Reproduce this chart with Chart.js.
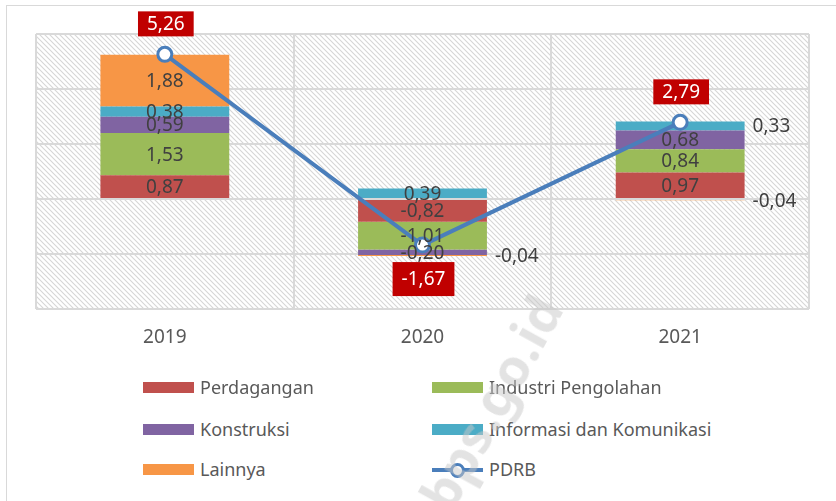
<!DOCTYPE html>
<html>
<head>
<meta charset="utf-8">
<script src="https://cdn.jsdelivr.net/npm/chart.js@4.4.1/dist/chart.umd.min.js"></script>
<style>
    body { margin: 0; background: #fff; }
    #wrap { position: relative; width: 836px; height: 501px; overflow: hidden; font-family: "Noto Sans", sans-serif; }
    #frame { position: absolute; left: 6px; top: 5px; width: 900px; height: 600px; border-left: 1px solid #d9d9d9; border-top: 1px solid #d9d9d9; }
    #chart__canvas { position: absolute; left: 0; top: 0; }
    .legend__item { position: absolute; display: flex; align-items: center; height: 24px; margin-top: -12px; font-size: 18px; color: #595959; white-space: nowrap; }
    .legend__swatch { width: 51px; height: 11px; margin-right: 6px; }
    .legend__line { position: relative; width: 51px; height: 11px; margin-right: 6px; }
    .legend__line span.bar { position: absolute; left: 0; right: 0; top: 4px; height: 4px; background: #4a7ebb; }
    .legend__line span.dot { position: absolute; left: 18px; top: -1px; width: 9px; height: 9px; border: 3px solid #4a7ebb; border-radius: 50%; background: #fff; }
    #watermark { position: absolute; left: 490px; top: 402px; transform: translate(-50%, -50%) rotate(-61deg); font-size: 52px; font-weight: bold; color: rgba(200, 200, 200, 0.5); white-space: nowrap; pointer-events: none; }
</style>
</head>
<body>
<div id="wrap">
    <div id="frame"></div>
    <canvas id="chart__canvas" width="836" height="377"></canvas>
    <div id="legend"></div>
    <div id="watermark">bps.go.id</div>
</div>
<script>
// data (sumbangan pertumbuhan, persen)
const years = ['2019', '2020', '2021'];
const perdagangan = [0.87, -0.82, 0.97];
const industri = [1.53, -1.01, 0.84];
const konstruksi = [0.59, -0.20, 0.68];
const infokom = [0.38, 0.39, 0.33];
const lainnya = [1.88, -0.04, -0.04];
const pdrb = [5.26, -1.67, 2.79];

// labels that sit to the right of the bar instead of inside it ("dataset-index")
const outsideLabels = ['3-2', '4-1', '4-2'];

const fmt = v => v.toFixed(2).replace('.', ',');
const FONT = '"Noto Sans", sans-serif';

// hatched background of the plot area
function hatchPattern(ctx) {
    const c = document.createElement('canvas');
    c.width = 5; c.height = 5;
    const p = c.getContext('2d');
    p.strokeStyle = '#d6d6d6';
    p.lineWidth = 1.1;
    p.beginPath();
    p.moveTo(-1, -1); p.lineTo(6, 6);
    p.moveTo(-1, 4); p.lineTo(1, 6);
    p.moveTo(4, -1); p.lineTo(6, 1);
    p.stroke();
    return ctx.createPattern(c, 'repeat');
}

const hatchPlugin = {
    id: 'hatch',
    beforeDraw(chart) {
        const { ctx, chartArea: a } = chart;
        ctx.save();
        ctx.fillStyle = hatchPattern(ctx);
        ctx.fillRect(a.left, a.top, a.right - a.left, a.bottom - a.top);
        ctx.restore();
    }
};

const labelPlugin = {
    id: 'valueLabels',
    afterDatasetsDraw(chart) {
        const ctx = chart.ctx;
        ctx.save();
        ctx.textBaseline = 'middle';
        chart.data.datasets.forEach((ds, di) => {
            const meta = chart.getDatasetMeta(di);
            meta.data.forEach((el, i) => {
                const v = ds.data[i];
                const text = fmt(v);
                ctx.font = '19px ' + FONT;
                if (ds.type === 'line') {
                    const w = ctx.measureText(text).width + 18;
                    const h = v >= 0 ? 25 : 34;
                    const cy = v >= 0 ? el.y - 18 - h / 2 : el.y + 17 + h / 2;
                    ctx.fillStyle = '#c00000';
                    ctx.fillRect(el.x - w / 2 + 1, cy - h / 2, w, h);
                    ctx.fillStyle = '#ffffff';
                    ctx.textAlign = 'center';
                    ctx.fillText(text, el.x + 1, cy + 1);
                } else {
                    ctx.fillStyle = '#404040';
                    const cy = (el.y + el.base) / 2;
                    if (outsideLabels.includes(di + '-' + i)) {
                        ctx.textAlign = 'left';
                        ctx.fillText(text, el.x + el.width / 2 + 8, cy + 1);
                    } else {
                        ctx.textAlign = 'center';
                        ctx.fillText(text, el.x, cy + 1);
                    }
                }
            });
        });
        ctx.restore();
    }
};

const barStyle = { type: 'bar', order: 1, borderWidth: 0, barPercentage: 0.5, categoryPercentage: 1 };

const chart = new Chart(document.querySelector('#chart__canvas'), {
    data: {
        labels: years,
        datasets: [
            { ...barStyle, label: 'Perdagangan', data: perdagangan, backgroundColor: '#c0504d' },
            { ...barStyle, label: 'Industri Pengolahan', data: industri, backgroundColor: '#9bbb59' },
            { ...barStyle, label: 'Konstruksi', data: konstruksi, backgroundColor: '#8064a2' },
            { ...barStyle, label: 'Informasi dan Komunikasi', data: infokom, backgroundColor: '#4bacc6' },
            { ...barStyle, label: 'Lainnya', data: lainnya, backgroundColor: '#f79646' },
            {
                type: 'line', order: 0, label: 'PDRB', data: pdrb, stack: 'pdrb',
                borderColor: '#4a7ebb', borderWidth: 4, tension: 0,
                pointRadius: 7, pointBorderWidth: 3, pointBackgroundColor: '#ffffff', pointBorderColor: '#4a7ebb'
            }
        ]
    },
    options: {
        responsive: false,
        animation: false,
        layout: { padding: { left: 36, right: 27, top: 34, bottom: 11 } },
        scales: {
            x: {
                stacked: true,
                grid: { color: '#d9d9d9', lineWidth: 2, drawTicks: false, offset: true },
                border: { display: false },
                ticks: { color: '#595959', font: { family: FONT, size: 19 }, padding: 17 }
            },
            y: {
                stacked: true,
                min: -4, max: 6,
                ticks: { stepSize: 2, display: false },
                grid: { color: '#d9d9d9', lineWidth: 2, drawTicks: false },
                border: { display: false }
            }
        },
        plugins: { legend: { display: false }, tooltip: { enabled: false } }
    },
    plugins: [hatchPlugin, labelPlugin]
});

// legend (two columns, built from the datasets)
const legendCols = [143, 432];
const legendRows = [387, 429, 469];
const legendBox = document.querySelector('#legend');
chart.data.datasets.forEach((ds, i) => {
    const item = document.createElement('div');
    item.className = 'legend__item';
    item.style.left = legendCols[i % 2] + 'px';
    item.style.top = legendRows[Math.floor(i / 2)] + 'px';
    if (ds.type === 'line') {
        item.innerHTML = `<div class="legend__line"><span class="bar"></span><span class="dot"></span></div>${ds.label}`;
    } else {
        item.innerHTML = `<div class="legend__swatch" style="background:${ds.backgroundColor}"></div>${ds.label}`;
    }
    legendBox.appendChild(item);
});
</script>
</body>
</html>
